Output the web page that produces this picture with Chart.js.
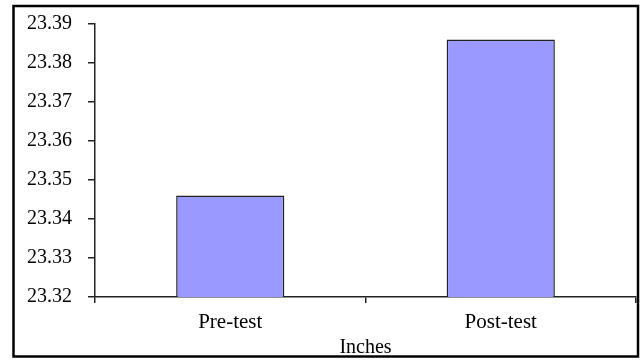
<!DOCTYPE html>
<html>
<head>
<meta charset="utf-8">
<script src="https://cdn.jsdelivr.net/npm/chart.js@4"></script>
<style>
	html, body { margin: 0; padding: 0; background: #fff; }
	#wrap { width: 640px; height: 360px; }
</style>
</head>
<body>
<div id="wrap"><canvas id="chart" width="640" height="360"></canvas></div>
<script>
// chart data
const categories = ["Pre-test", "Post-test"];
const inches = [23.346, 23.386];
const yMin = 23.32;
const yMax = 23.39;
const yStep = 0.01;

const serif = "'Liberation Serif', 'Times New Roman', serif";

// outer frame round the whole chart
const framePlugin = {
	id: 'frame',
	afterDraw(chart) {
		let ctx = chart.ctx;
		ctx.save();
		ctx.strokeStyle = '#000';
		ctx.lineWidth = 2.5;
		ctx.strokeRect(13.5, 6, 624.5, 350.5);
		ctx.restore();
	}
};

new Chart(document.getElementById('chart'), {
	type: 'bar',
	data: {
		labels: categories,
		datasets: [{
			label: 'Inches',
			data: inches,
			backgroundColor: '#9999ff',
			borderColor: '#222',
			borderWidth: 1.5,
			categoryPercentage: 1,
			barPercentage: 0.4
		}]
	},
	options: {
		responsive: false,
		animation: false,
		layout: { padding: { left: 0, right: 4, top: 24, bottom: 0 } },
		plugins: {
			legend: { display: false },
			tooltip: { enabled: false }
		},
		scales: {
			x: {
				grid: { display: true, drawOnChartArea: false, drawTicks: true, tickLength: 6, color: '#222', lineWidth: 1.5 },
				border: { display: true, color: '#222', width: 1.5 },
				ticks: { color: '#000', padding: 7, font: { family: serif, size: 21 } },
				title: { display: true, text: 'Inches', color: '#000', padding: 0, font: { family: serif, size: 20 } },
				afterFit(scale) { scale.height = 63; scale.paddingLeft = 0; scale.paddingRight = 0; }
			},
			y: {
				min: yMin,
				max: yMax,
				grid: { display: true, drawOnChartArea: false, drawTicks: true, tickLength: 7, color: '#222', lineWidth: 1.5 },
				border: { display: true, color: '#222', width: 1.5 },
				ticks: {
					stepSize: yStep,
					color: '#000',
					padding: 16,
					font: { family: serif, size: 20 },
					callback: function(v) { return v.toFixed(2); }
				},
				afterFit(scale) { scale.width = 95; scale.paddingTop = 0; scale.paddingBottom = 0; }
			}
		}
	},
	plugins: [framePlugin]
});
</script>
</body>
</html>
